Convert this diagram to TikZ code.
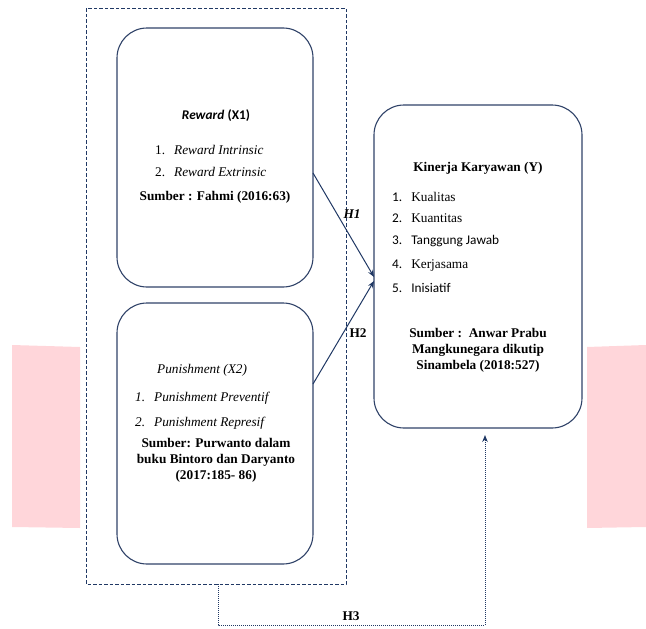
\documentclass[tikz,border=0pt]{standalone}
\usepackage{fontspec}
\setmainfont{Liberation Serif}
\newfontfamily\calfont{Carlito}
\usetikzlibrary{arrows.meta}
\definecolor{boxc}{HTML}{2F4268}
\definecolor{arrc}{HTML}{203864}
\definecolor{pinkc}{HTML}{FFD6DA}
\tikzset{
  rbox/.style={draw=boxc, line width=1.1pt, rounded corners=30pt},
  txt/.style={inner sep=0pt, font=\fontsize{13.3}{16}\selectfont},
  conn/.style={draw=arrc, line width=1pt, -{Stealth[length=7pt,width=5.5pt]}},
}
\begin{document}
\begin{tikzpicture}[x=1pt,y=-1pt]
\useasboundingbox (0,0) rectangle (646,629);
% pink bands
\fill[pinkc] (12,345) -- (80,347) -- (80,528) -- (12,527) -- cycle;
\fill[pinkc] (587,347) -- (646,345) -- (646,527) -- (587,528) -- cycle;
% dashed group
\draw[arrc, line width=1pt, dash pattern=on 3.5pt off 2pt] (86,8) rectangle (346,584);
% boxes
\draw[rbox] (117,28) rectangle (313,287);
\draw[rbox] (117,303) rectangle (313,564);
\draw[rbox] (374,105) rectangle (582,428);
\coordinate (r1) at (313,173);
\coordinate (p1) at (313,384);
\coordinate (y1) at (374,277);
\coordinate (y2) at (374,281);
\coordinate (h3a) at (218,584);
\coordinate (h3b) at (218,625);
\coordinate (h3c) at (485,625);
\coordinate (h3d) at (485,435);
% Reward box text
\node[txt] (rt) at (216,116) {{\calfont\bfseries\itshape Reward} {\calfont\bfseries (X1)}};
\node[txt, anchor=west] (r1a) at (155,150) {1.\hspace{9pt}\itshape Reward Intrinsic};
\node[txt, anchor=west] (r1b) at (155,172) {2.\hspace{9pt}\itshape Reward Extrinsic};
\node[txt] (rs) at (215,197) {\bfseries Sumber : Fahmi (2016:63)};
% Punishment box text
\node[txt, anchor=west] (pt) at (157,370) {\itshape Punishment (X2)};
\node[txt, anchor=west] (p1a) at (135,398) {\itshape 1.\hspace{9pt}Punishment Preventif};
\node[txt, anchor=west] (p1b) at (135,423) {\itshape 2.\hspace{9pt}Punishment Represif};
\node[txt, align=center] (ps) at (216,460) {\bfseries Sumber: Purwanto dalam\\\bfseries buku Bintoro dan Daryanto\\\bfseries (2017:185- 86)};
% Kinerja box text
\node[txt] (yt) at (478,168) {\bfseries Kinerja Karyawan (Y)};
\node[txt, anchor=west] (y1a) at (392,197) {{\calfont 1.}\hspace{9pt}Kualitas};
\node[txt, anchor=west] (y1b) at (392,218) {{\calfont 2.}\hspace{9pt}Kuantitas};
\node[txt, anchor=west] (y1c) at (392,241) {\calfont 3.\hspace{9pt}Tanggung Jawab};
\node[txt, anchor=west] (y1d) at (392,266) {{\calfont 4.}\hspace{9pt}Kerjasama};
\node[txt, anchor=west] (y1e) at (392,288) {\calfont 5.\hspace{9pt}Inisiatif};
\node[txt, align=center] (ys) at (478,350) {\bfseries Sumber :\ \ Anwar Prabu\\\bfseries Mangkunegara dikutip\\\bfseries Sinambela (2018:527)};
% connectors
\draw[conn] (r1) -- (y1);
\draw[conn] (p1) -- (y2);
\draw[arrc, line width=1pt, densely dotted, -{Stealth[length=7pt,width=5.5pt]}] (h3a) -- (h3b) -- (h3c) -- (h3d);
% labels
\node[txt] (h1) at (352,214) {\bfseries\itshape H1};
\node[txt] (h2) at (358,333) {\bfseries H2};
\node[txt] (h3) at (351,616) {\bfseries H3};
\end{tikzpicture}
\end{document}
